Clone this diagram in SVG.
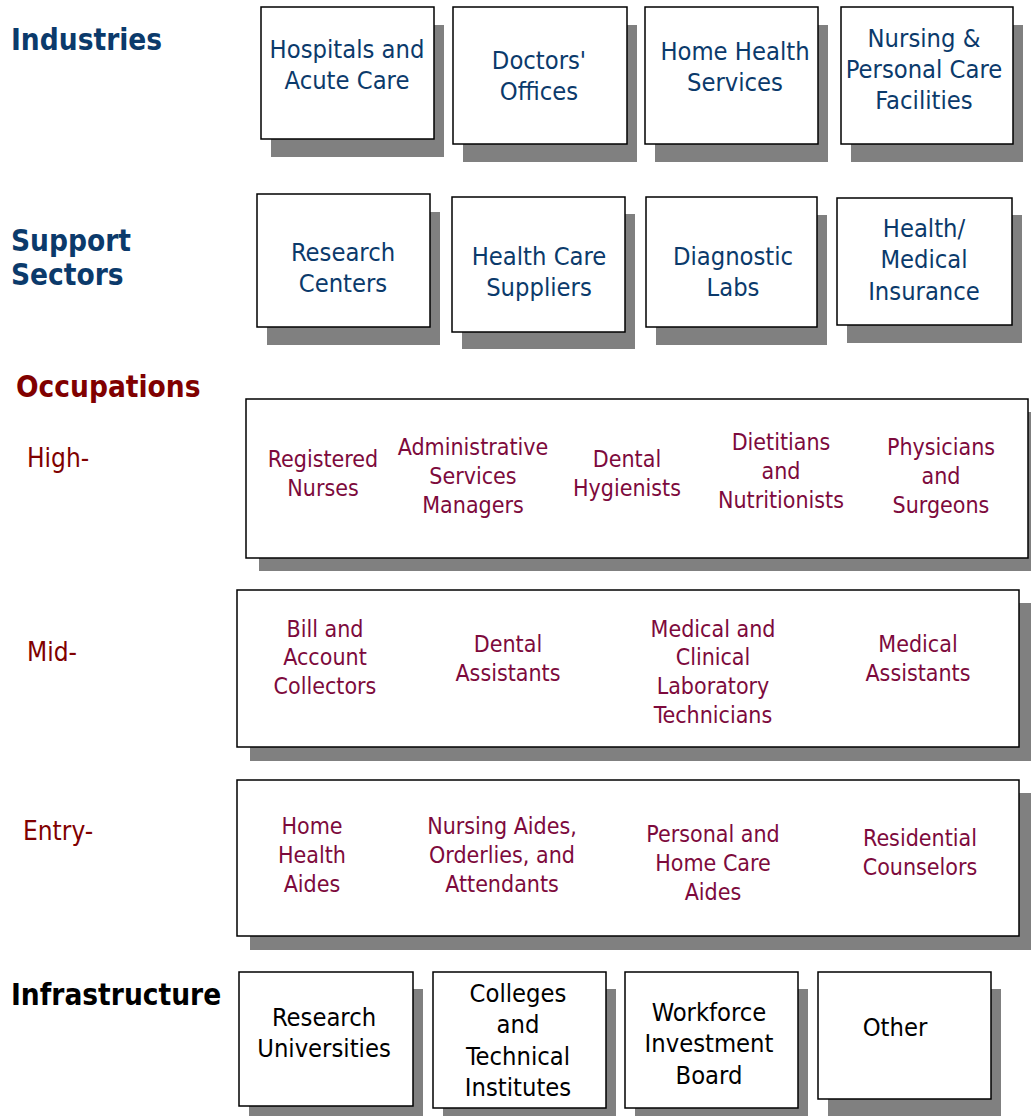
<svg xmlns="http://www.w3.org/2000/svg" width="1031" height="1116" viewBox="0 0 1031 1116">
  <style>
    text { font-family: "DejaVu Sans Condensed", "DejaVu Sans", sans-serif; font-stretch: condensed; text-anchor: middle; }
    .box { fill: #ffffff; stroke: #000000; stroke-width: 1.5; }
    .shadow { fill: #808080; }
    .hdr { font-weight: bold; font-size: 29.5px; text-anchor: start; }
    .blue { fill: #0b3a6b; font-size: 25.3px; }
    .occ { fill: #7d0a3c; font-size: 23px; }
    .lvl { fill: #800000; font-size: 26px; text-anchor: start; }
    .infra { fill: #000000; font-size: 25.3px; }
  </style>

  <!-- row headings -->
  <g id="headings">
    <text class="hdr" x="11" y="50" fill="#0b3a6b">Industries</text>
    <text class="hdr" x="11" y="251" fill="#0b3a6b">Support</text>
    <text class="hdr" x="11" y="285" fill="#0b3a6b">Sectors</text>
    <text class="hdr" x="16" y="397" fill="#800000">Occupations</text>
    <text class="lvl" x="27" y="467">High-</text>
    <text class="lvl" x="27" y="661">Mid-</text>
    <text class="lvl" x="23" y="840">Entry-</text>
    <text class="hdr" x="11" y="1005" fill="#000000">Infrastructure</text>
  </g>

  <!-- industries -->
  <g id="hospitals">
    <rect class="shadow" x="271" y="25" width="173" height="132"/>
    <rect class="box" x="261" y="7" width="173" height="132"/>
    <text class="blue" x="347" y="58">Hospitals and</text>
    <text class="blue" x="347" y="89">Acute Care</text>
  </g>
  <g id="doctors">
    <rect class="shadow" x="463" y="25" width="174" height="137"/>
    <rect class="box" x="453" y="7" width="174" height="137"/>
    <text class="blue" x="539" y="69">Doctors'</text>
    <text class="blue" x="539" y="100">Offices</text>
  </g>
  <g id="home-health">
    <rect class="shadow" x="655" y="25" width="173" height="137"/>
    <rect class="box" x="645" y="7" width="173" height="137"/>
    <text class="blue" x="735" y="60">Home Health</text>
    <text class="blue" x="735" y="91">Services</text>
  </g>
  <g id="nursing-facilities">
    <rect class="shadow" x="851" y="25" width="172" height="137"/>
    <rect class="box" x="841" y="7" width="172" height="137"/>
    <text class="blue" x="924" y="47">Nursing &amp;</text>
    <text class="blue" x="924" y="78">Personal Care</text>
    <text class="blue" x="924" y="109">Facilities</text>
  </g>

  <!-- support sectors -->
  <g id="research-centers">
    <rect class="shadow" x="267" y="212" width="173" height="133"/>
    <rect class="box" x="257" y="194" width="173" height="133"/>
    <text class="blue" x="343" y="261">Research</text>
    <text class="blue" x="343" y="292">Centers</text>
  </g>
  <g id="suppliers">
    <rect class="shadow" x="462" y="214" width="173" height="135"/>
    <rect class="box" x="452" y="197" width="173" height="135"/>
    <text class="blue" x="539" y="265">Health Care</text>
    <text class="blue" x="539" y="296">Suppliers</text>
  </g>
  <g id="diagnostic-labs">
    <rect class="shadow" x="656" y="215" width="171" height="130"/>
    <rect class="box" x="646" y="197" width="171" height="130"/>
    <text class="blue" x="733" y="265">Diagnostic</text>
    <text class="blue" x="733" y="296">Labs</text>
  </g>
  <g id="insurance">
    <rect class="shadow" x="847" y="215" width="175" height="128"/>
    <rect class="box" x="837" y="198" width="175" height="127"/>
    <text class="blue" x="924" y="237">Health/</text>
    <text class="blue" x="924" y="268">Medical</text>
    <text class="blue" x="924" y="300">Insurance</text>
  </g>

  <!-- occupations: high -->
  <g id="occ-high">
    <rect class="shadow" x="259" y="412" width="782" height="159"/>
    <rect class="box" x="246" y="399" width="782" height="159"/>
    <text class="occ" x="323" y="467">Registered</text>
    <text class="occ" x="323" y="496">Nurses</text>
    <text class="occ" x="473" y="455">Administrative</text>
    <text class="occ" x="473" y="484">Services</text>
    <text class="occ" x="473" y="513">Managers</text>
    <text class="occ" x="627" y="467">Dental</text>
    <text class="occ" x="627" y="496">Hygienists</text>
    <text class="occ" x="781" y="450">Dietitians</text>
    <text class="occ" x="781" y="479">and</text>
    <text class="occ" x="781" y="508">Nutritionists</text>
    <text class="occ" x="941" y="455">Physicians</text>
    <text class="occ" x="941" y="484">and</text>
    <text class="occ" x="941" y="513">Surgeons</text>
  </g>

  <!-- occupations: mid -->
  <g id="occ-mid">
    <rect class="shadow" x="250" y="603" width="782" height="158"/>
    <rect class="box" x="237" y="590" width="782" height="157"/>
    <text class="occ" x="325" y="637">Bill and</text>
    <text class="occ" x="325" y="665">Account</text>
    <text class="occ" x="325" y="694">Collectors</text>
    <text class="occ" x="508" y="652">Dental</text>
    <text class="occ" x="508" y="681">Assistants</text>
    <text class="occ" x="713" y="637">Medical and</text>
    <text class="occ" x="713" y="665">Clinical</text>
    <text class="occ" x="713" y="694">Laboratory</text>
    <text class="occ" x="713" y="723">Technicians</text>
    <text class="occ" x="918" y="652">Medical</text>
    <text class="occ" x="918" y="681">Assistants</text>
  </g>

  <!-- occupations: entry -->
  <g id="occ-entry">
    <rect class="shadow" x="250" y="793" width="782" height="157"/>
    <rect class="box" x="237" y="780" width="782" height="156"/>
    <text class="occ" x="312" y="834">Home</text>
    <text class="occ" x="312" y="863">Health</text>
    <text class="occ" x="312" y="892">Aides</text>
    <text class="occ" x="502" y="834">Nursing Aides,</text>
    <text class="occ" x="502" y="863">Orderlies, and</text>
    <text class="occ" x="502" y="892">Attendants</text>
    <text class="occ" x="713" y="842">Personal and</text>
    <text class="occ" x="713" y="871">Home Care</text>
    <text class="occ" x="713" y="900">Aides</text>
    <text class="occ" x="920" y="846">Residential</text>
    <text class="occ" x="920" y="875">Counselors</text>
  </g>

  <!-- infrastructure -->
  <g id="universities">
    <rect class="shadow" x="249" y="989" width="174" height="135"/>
    <rect class="box" x="239" y="972" width="174" height="134"/>
    <text class="infra" x="324" y="1026">Research</text>
    <text class="infra" x="324" y="1057">Universities</text>
  </g>
  <g id="colleges">
    <rect class="shadow" x="443" y="989" width="173" height="135"/>
    <rect class="box" x="433" y="972" width="173" height="136"/>
    <text class="infra" x="518" y="1002">Colleges</text>
    <text class="infra" x="518" y="1033">and</text>
    <text class="infra" x="518" y="1065">Technical</text>
    <text class="infra" x="518" y="1096">Institutes</text>
  </g>
  <g id="workforce-board">
    <rect class="shadow" x="635" y="989" width="173" height="135"/>
    <rect class="box" x="625" y="972" width="173" height="136"/>
    <text class="infra" x="709" y="1021">Workforce</text>
    <text class="infra" x="709" y="1052">Investment</text>
    <text class="infra" x="709" y="1084">Board</text>
  </g>
  <g id="other">
    <rect class="shadow" x="828" y="989" width="173" height="135"/>
    <rect class="box" x="818" y="972" width="173" height="127"/>
    <text class="infra" x="895" y="1036">Other</text>
  </g>
</svg>
